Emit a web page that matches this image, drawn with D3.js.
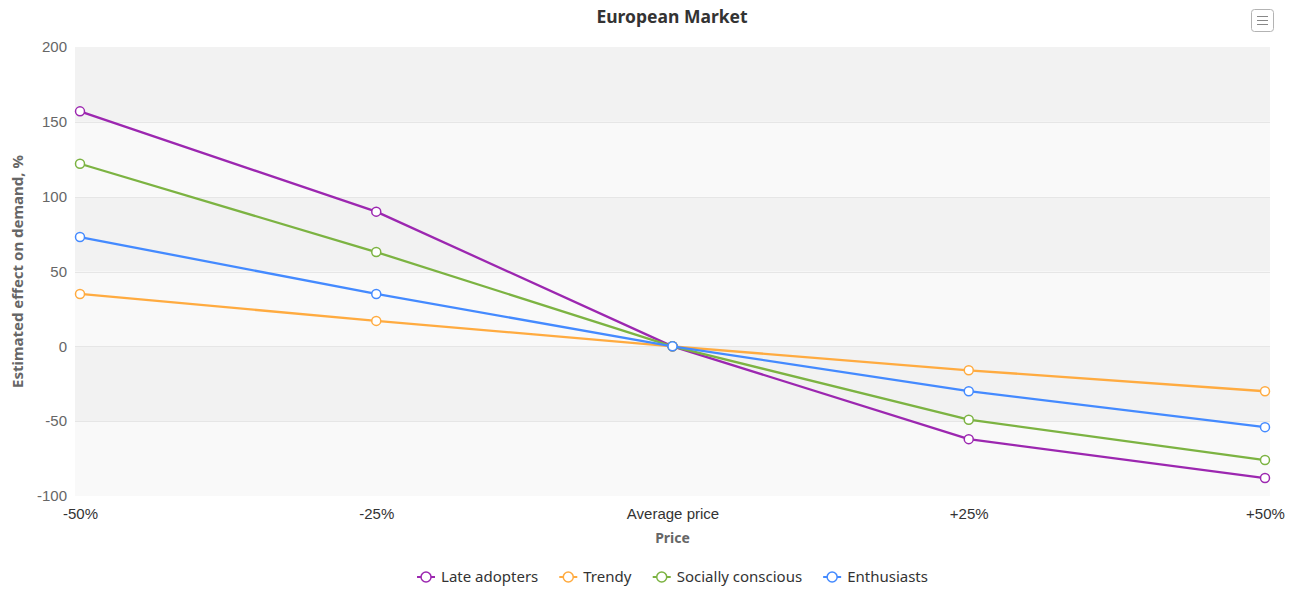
<!DOCTYPE html>
<html>
<head>
<meta charset="utf-8">
<script src="https://cdn.jsdelivr.net/npm/d3@7"></script>
<style>
  html, body { margin: 0; padding: 0; background: #fff; }
  svg { display: block; font-family: "Segoe UI", "Noto Sans", "Open Sans", sans-serif; }
</style>
</head>
<body>
<div id="chart"></div>
<script>
const width = 1302, height = 592;

// data
const categories = ["-50%", "-25%", "Average price", "+25%", "+50%"];
const seriesNames = ["Late adopters", "Trendy", "Socially conscious", "Enthusiasts"];
const seriesColors = ["#9c27b0", "#ffab40", "#7cb342", "#448aff"];
const lateAdopters = [157, 90, 0, -62, -88];
const trendy = [35, 17, 0, -16, -30];
const sociallyConscious = [122, 63, 0, -49, -76];
const enthusiasts = [73, 35, 0, -30, -54];
const yTicks = [-100, -50, 0, 50, 100, 150, 200];

const series = [lateAdopters, trendy, sociallyConscious, enthusiasts].map((values, i) => ({
  name: seriesNames[i],
  color: seriesColors[i],
  values: values
}));

const margin = {top: 47, right: 32, bottom: 96, left: 75};
const plotW = width - margin.left - margin.right;
const plotH = height - margin.top - margin.bottom;

const svg = d3.select("#chart").append("svg")
  .attr("width", width)
  .attr("height", height);

const x = d3.scalePoint()
  .domain(categories)
  .range([5, plotW - 5]);

const y = d3.scaleLinear()
  .domain([-100, 200])
  .range([plotH, 0]);

const g = svg.append("g").attr("transform", `translate(${margin.left},${margin.top})`);

// alternating bands
const bands = d3.pairs(yTicks);
g.append("g").selectAll("rect")
  .data(bands)
  .join("rect")
  .attr("x", 0)
  .attr("width", plotW)
  .attr("y", d => y(d[1]))
  .attr("height", d => y(d[0]) - y(d[1]))
  .attr("fill", (d, i) => i % 2 === 0 ? "#f9f9f9" : "#f2f2f2");

// grid lines
g.append("g").selectAll("line")
  .data(yTicks.slice(1, -1))
  .join("line")
  .attr("x1", 0)
  .attr("x2", plotW)
  .attr("y1", d => Math.round(y(d)) + 0.5)
  .attr("y2", d => Math.round(y(d)) + 0.5)
  .attr("stroke", "#e6e6e6")
  .attr("stroke-width", 1);

// y axis labels (plain hyphen minus like the original)
const yAxis = g.append("g")
  .call(d3.axisLeft(y).tickValues(yTicks).tickFormat(d => String(d)).tickSize(0).tickPadding(8));
yAxis.select(".domain").remove();
yAxis.selectAll("text")
  .attr("fill", "#666")
  .attr("font-size", 15)
  .style("font-family", "inherit");

// x axis labels
const xAxis = g.append("g")
  .attr("transform", `translate(0,${plotH})`)
  .call(d3.axisBottom(x).tickSize(0).tickPadding(12));
xAxis.select(".domain").remove();
xAxis.selectAll("text")
  .attr("fill", "#333")
  .attr("font-size", 15)
  .style("font-family", "inherit");

// axis titles
svg.append("text")
  .attr("x", margin.left + plotW / 2)
  .attr("y", 543)
  .attr("text-anchor", "middle")
  .attr("font-size", 14)
  .attr("font-weight", "bold")
  .attr("fill", "#666")
  .text("Price");

svg.append("text")
  .attr("transform", `translate(23,${margin.top + plotH / 2}) rotate(-90)`)
  .attr("text-anchor", "middle")
  .attr("font-size", 15)
  .attr("font-weight", "bold")
  .attr("fill", "#666")
  .text("Estimated effect on demand, %");

// title
svg.append("text")
  .attr("x", width / 2 + 21)
  .attr("y", 23)
  .attr("text-anchor", "middle")
  .attr("font-size", 17.5)
  .attr("font-weight", "bold")
  .attr("fill", "#333")
  .text("European Market");

// lines
const line = d3.line()
  .x((d, i) => x(categories[i]))
  .y(d => y(d));

const sg = g.append("g").selectAll("g")
  .data(series)
  .join("g");

sg.append("path")
  .attr("d", d => line(d.values))
  .attr("fill", "none")
  .attr("stroke", d => d.color)
  .attr("stroke-width", 2.3)
  .attr("stroke-linejoin", "round");

sg.selectAll("circle")
  .data(d => d.values.map((v, i) => ({v, i, color: d.color})))
  .join("circle")
  .attr("cx", d => x(categories[d.i]))
  .attr("cy", d => y(d.v))
  .attr("r", 4.5)
  .attr("fill", "#fff")
  .attr("stroke", d => d.color)
  .attr("stroke-width", 1.5);

// legend, centred on the plot area
const legend = svg.append("g");
const items = legend.selectAll("g")
  .data(series)
  .join("g");
items.append("line")
  .attr("x1", 0).attr("x2", 18)
  .attr("y1", 0).attr("y2", 0)
  .attr("stroke", d => d.color)
  .attr("stroke-width", 2);
items.append("circle")
  .attr("cx", 9).attr("cy", 0).attr("r", 5)
  .attr("fill", "#fff")
  .attr("stroke", d => d.color)
  .attr("stroke-width", 1.5);
items.append("text")
  .attr("x", 24)
  .attr("y", 0)
  .attr("dy", "0.35em")
  .attr("font-size", 15)
  .attr("fill", "#333")
  .text(d => d.name);

let offset = 0;
items.each(function () {
  const w = this.getBBox().width;
  d3.select(this).attr("transform", `translate(${offset},0)`);
  offset += w + 21;
});
const totalW = offset - 21;
legend.attr("transform", `translate(${margin.left + plotW / 2 - totalW / 2},577)`);

// menu button
const menu = svg.append("g").attr("transform", "translate(1251,9)");
menu.append("rect")
  .attr("x", 0.5).attr("y", 0.5)
  .attr("width", 22).attr("height", 22)
  .attr("rx", 3)
  .attr("fill", "#fff")
  .attr("stroke", "#b3b3b3");
menu.selectAll("line")
  .data([7, 11, 15])
  .join("line")
  .attr("x1", 6).attr("x2", 17)
  .attr("y1", d => d + 0.5).attr("y2", d => d + 0.5)
  .attr("stroke", "#888")
  .attr("stroke-width", 1);
</script>
</body>
</html>
